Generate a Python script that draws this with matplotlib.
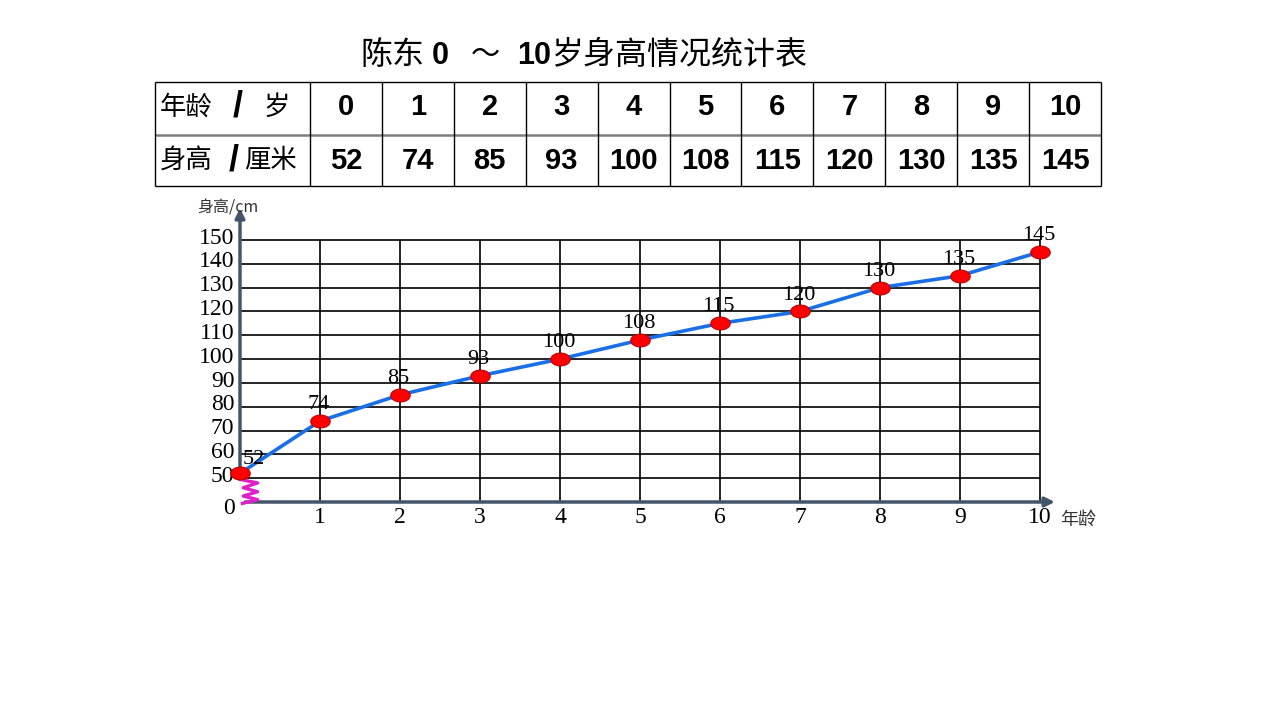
import matplotlib
matplotlib.use("Agg")
import matplotlib.pyplot as plt
import numpy as np
from matplotlib.path import Path

plt.rcParams['font.family'] = ['Noto Sans CJK SC', 'DejaVu Sans']

# data
ages = [0, 1, 2, 3, 4, 5, 6, 7, 8, 9, 10]
heights = [52, 74, 85, 93, 100, 108, 115, 120, 130, 135, 145]
y_ticks = [0, 50, 60, 70, 80, 90, 100, 110, 120, 130, 140, 150]
row_labels = ['年龄', '身高']
row_units = ['岁', '厘米']
title_name = '陈东'
title_tail = '岁身高情况统计表'
y_label = '身高/cm'
x_label = '年龄'

CJK = 'Noto Sans CJK SC'
SANS = 'Liberation Sans'
SERIF = 'Liberation Serif'


def squash(v):
    # broken axis: 0..50 takes the height of one grid step
    v = np.asarray(v, dtype=float)
    return np.where(v >= 50, v - 40, v / 5)


W, H = 1280, 720
fig = plt.figure(figsize=(12.8, 7.2), dpi=100)

# page layer in pixel coordinates for title and table
page = fig.add_axes([0, 0, 1, 1])
page.set_xlim(0, W)
page.set_ylim(H, 0)
page.axis('off')

# title
ty = 55
page.text(360, ty, title_name, fontsize=23, family=CJK, ha='left', va='center')
page.text(432, ty + 1, '0', fontsize=22, family=SANS, weight='bold', ha='left', va='center')
page.text(485, ty, '～', fontsize=21, family=CJK, ha='center', va='center')
page.text(517, ty + 1, '10', fontsize=22, family=SANS, weight='bold', ha='left', va='center')
page.text(551, ty, title_tail, fontsize=23, family=CJK, ha='left', va='center')

# table
t_left, t_right = 155, 1101
t_top, t_mid, t_bot = 82, 135, 186
col_edges = np.linspace(310, t_right, len(ages) + 1)
page.hlines([t_top, t_bot], t_left, t_right, color='black', lw=1.0)
page.hlines([t_mid], t_left, t_right, color='#7f7f7f', lw=1.8)
page.vlines([t_left, t_right], t_top, t_bot, color='black', lw=1.0)
page.vlines(col_edges[:-1], t_top, t_bot, color='black', lw=1.0)

row_y = [107, 161]
page.text(160, row_y[0], row_labels[0], fontsize=19, family=CJK, ha='left', va='center')
page.text(238, row_y[0], '/', fontsize=26, family=SANS, weight='bold', ha='center', va='center')
page.text(264, row_y[0], row_units[0], fontsize=19, family=CJK, ha='left', va='center')
page.text(160, row_y[1], row_labels[1], fontsize=19, family=CJK, ha='left', va='center')
page.text(234, row_y[1], '/', fontsize=26, family=SANS, weight='bold', ha='center', va='center')
page.text(244, row_y[1], row_units[1], fontsize=19, family=CJK, ha='left', va='center')

centers = (col_edges[:-1] + col_edges[1:]) / 2
for cx, a, h in zip(centers, ages, heights):
    page.text(cx, row_y[0], str(a), fontsize=21, family=SANS, weight='bold', ha='center', va='center')
    page.text(cx, row_y[1], str(h), fontsize=21, family=SANS, weight='bold', ha='center', va='center')

# chart axes: x 0 -> px 240, 80 px per year; y 0 -> px 502
x0_px, y0_px, x_step, y_step = 240, 502, 80, 262 / 110
ax_l, ax_r, ax_t, ax_b = 200, 1100, 195, 545
ax = fig.add_axes([ax_l / W, (H - ax_b) / H, (ax_r - ax_l) / W, (ax_b - ax_t) / H])
ax.set_xlim((ax_l - x0_px) / x_step, (ax_r - x0_px) / x_step)
ax.set_ylim((y0_px - ax_b) / y_step, (y0_px - ax_t) / y_step)
ax.axis('off')

grid_top = squash(max(y_ticks))
ax.hlines(squash(y_ticks[1:]), 0, ages[-1], color='black', lw=1.2, zorder=1)
ax.vlines(ages[1:], 0, grid_top, color='black', lw=1.2, zorder=1)

axis_col = '#44546a'
ax.annotate('', xy=(0, 124.5), xytext=(0, squash(50)),
            arrowprops=dict(arrowstyle='-|>', color=axis_col, lw=2.5, mutation_scale=14),
            zorder=2)
ax.annotate('', xy=(10.22, 0), xytext=(0.03, 0),
            arrowprops=dict(arrowstyle='-|>', color=axis_col, lw=2.5, mutation_scale=14),
            zorder=2)

# break symbol
zz_x = [0.0, 0.22, 0.04, 0.22, 0.04, 0.22, 0.03]
zz_y = [9.5, 8.0, 6.0, 4.3, 2.5, 1.0, -0.6]
ax.plot(zz_x, zz_y, color='#e020c8', lw=2.4, zorder=3)

# line and markers
t = np.linspace(0, 2 * np.pi, 60)
ellipse = Path(np.column_stack([np.cos(t), 0.66 * np.sin(t)]))
ys = squash(heights)
ax.plot(ages, ys, color='#1a6fe6', lw=2.6, zorder=4)
ax.plot(ages, ys, linestyle='none', marker=ellipse, markersize=14,
        markerfacecolor='#ff0000', markeredgecolor='#c00000', markeredgewidth=0.8, zorder=5)

for i, (a, y, h) in enumerate(zip(ages, ys, heights)):
    if i == 0:
        ax.annotate(str(h), (a, y), xytext=(2, 3), textcoords='offset points',
                    ha='left', va='bottom', fontsize=16, family=SERIF, zorder=6)
    else:
        ax.annotate(str(h), (a, y), xytext=(-1, 5), textcoords='offset points',
                    ha='center', va='bottom', fontsize=16, family=SERIF, zorder=6)

# tick labels
for v in y_ticks:
    yy = squash(v) if v else -3.4
    ax.text(-0.07, yy + 0.8, str(v), ha='right', va='center', fontsize=17, family=SERIF)
for a in ages[1:]:
    ax.text(a, -6.3, str(a), ha='center', va='center', fontsize=17, family=SERIF)

ax.text(10.25, -7.3, x_label, ha='left', va='center', fontsize=13, family=CJK, color='#333333')
ax.text(-0.53, 123.4, y_label, ha='left', va='center', fontsize=11.5, family=CJK, color='#333333')

fig.savefig('out.png', dpi=100)
